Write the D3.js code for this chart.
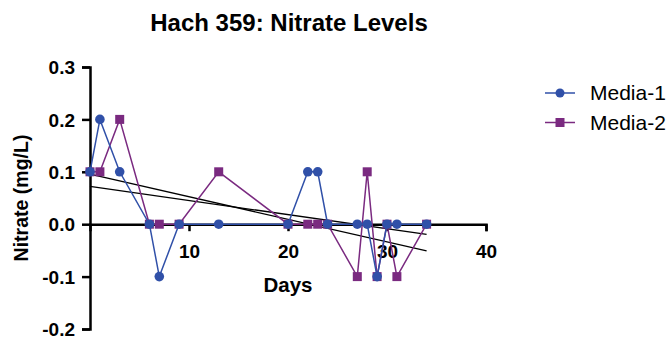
<!DOCTYPE html>
<html><head><meta charset="utf-8">
<script src="https://cdn.jsdelivr.net/npm/d3@7"></script>
<style>body{margin:0;background:#fff}text{font-family:"Liberation Sans",Arial,sans-serif}</style>
</head><body><svg id="c" width="667" height="339"></svg>
<script>
const days1 = [0,1,3,6,7,9,13,20,22,23,24,27,28,29,30,31,34];
const media1 = [0.1,0.2,0.1,0,-0.1,0,0,0,0.1,0.1,0,0,0,-0.1,0,0,0];
const days2 = [0,1,3,6,7,9,13,20,22,23,24,27,28,29,30,31,34];
const media2 = [0.1,0.1,0.2,0,0,0,0.1,0,0,0,0,-0.1,0.1,-0.1,0,-0.1,0];
const xTicks = [10,20,30,40];
const yTicks = [-0.2,-0.1,0,0.1,0.2,0.3];
const yTickLabels = ["-0.2","-0.1","0.0","0.1","0.2","0.3"];
const seriesNames = ["Media-1","Media-2"];

const svg = d3.select("#c");
const x = d3.scaleLinear().domain([0,40]).range([90,486]);
const y = d3.scaleLinear().domain([-0.2,0.3]).range([329,67]);
const blue = "#3050A8", purple = "#7A2A80";

// title
svg.append("text").attr("x",289).attr("y",31).attr("text-anchor","middle")
  .attr("font-size",24).attr("font-weight","bold").text("Hach 359: Nitrate Levels");

// y axis
const ya = svg.append("g").attr("transform","translate(90,0)")
  .call(d3.axisLeft(y).tickValues(yTicks).tickFormat((d,i)=>yTickLabels[i]).tickSizeOuter(0).tickSize(8).tickPadding(7));
ya.select(".domain").attr("stroke-width",2.5).attr("stroke","#000");
ya.selectAll(".tick line").attr("stroke-width",2.5);
ya.selectAll("text").attr("font-size",19).attr("font-weight","bold").attr("fill","#000").attr("dy","0.35em");

// x axis at y=0
const xa = svg.append("g").attr("transform",`translate(0,${y(0)})`)
  .call(d3.axisBottom(x).tickValues(xTicks).tickSizeOuter(0).tickSize(7).tickPadding(13));
xa.select(".domain").attr("stroke-width",2.5).attr("stroke","#000");
xa.selectAll(".tick line").attr("stroke-width",2.5);
xa.selectAll("text").attr("font-size",19).attr("font-weight","bold").attr("fill","#000");

// axis labels
svg.append("text").attr("transform","translate(28,198) rotate(-90)").attr("text-anchor","middle")
  .attr("font-size",19.5).attr("font-weight","bold").text("Nitrate (mg/L)");
svg.append("text").attr("x",288).attr("y",292).attr("text-anchor","middle")
  .attr("font-size",20.5).attr("font-weight","bold").text("Days");

function fit(xs, ys){
  const n = xs.length, mx = d3.mean(xs), my = d3.mean(ys);
  let sxy=0, sxx=0;
  for(let i=0;i<n;i++){ sxy += (xs[i]-mx)*(ys[i]-my); sxx += (xs[i]-mx)**2; }
  const b = sxy/sxx, a = my - b*mx;
  const x0 = d3.min(xs), x1 = d3.max(xs);
  return [[x0, a+b*x0],[x1, a+b*x1]];
}

const line = d3.line().x(d=>x(d[0])).y(d=>y(d[1]));
const s1 = days1.map((d,i)=>[d,media1[i]]);
const s2 = days2.map((d,i)=>[d,media2[i]]);

// regression lines
[fit(days1,media1), fit(days2,media2)].forEach(f=>{
  svg.append("path").attr("d",line(f)).attr("stroke","#000").attr("stroke-width",1.3).attr("fill","none");
});

// Media-2 (drawn first)
svg.append("path").attr("d",line(s2)).attr("stroke",purple).attr("stroke-width",1.5).attr("fill","none");
svg.selectAll(".sq").data(s2).enter().append("rect")
  .attr("x",d=>x(d[0])-4.5).attr("y",d=>y(d[1])-4.5).attr("width",9).attr("height",9).attr("fill",purple);

// Media-1
svg.append("path").attr("d",line(s1)).attr("stroke",blue).attr("stroke-width",1.5).attr("fill","none");
svg.selectAll(".ci").data(s1).enter().append("circle")
  .attr("cx",d=>x(d[0])).attr("cy",d=>y(d[1])).attr("r",4.8).attr("fill",blue);

// legend
const lg = svg.append("g");
seriesNames.forEach((name,i)=>{
  const yy = 93 + i*29.5, col = i===0?blue:purple;
  lg.append("line").attr("x1",545).attr("x2",575).attr("y1",yy).attr("y2",yy).attr("stroke",col).attr("stroke-width",1.5);
  if(i===0) lg.append("circle").attr("cx",560).attr("cy",yy).attr("r",4.5).attr("fill",col);
  else lg.append("rect").attr("x",555.5).attr("y",yy-4.5).attr("width",9).attr("height",9).attr("fill",col);
  lg.append("text").attr("x",590).attr("y",yy).attr("dy","0.35em").attr("font-size",21).text(name);
});
</script></body></html>
